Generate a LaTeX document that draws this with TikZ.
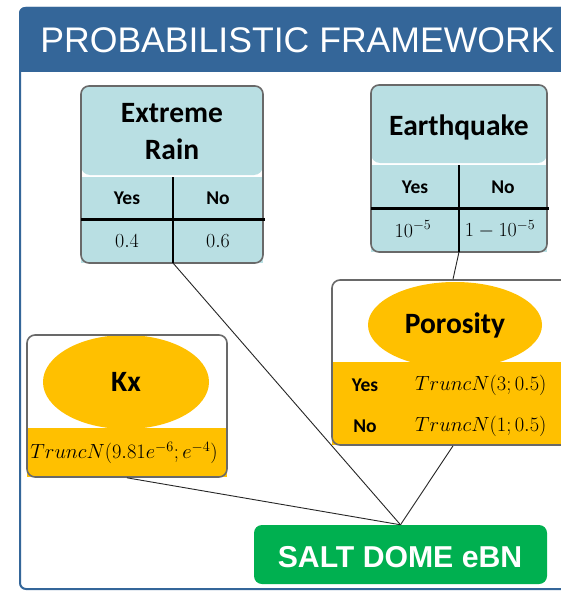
\RequirePackage{fix-cm}
\documentclass[tikz,border=0pt]{standalone}
\usepackage{fontspec}
\newfontfamily\calfont{Carlito}
\newfontfamily\arialfont{Liberation Sans}
\definecolor{hblue}{RGB}{52,102,153}
\definecolor{tblue}{RGB}{185,223,227}
\definecolor{nyellow}{RGB}{255,192,0}
\definecolor{ngreen}{RGB}{0,176,80}
\definecolor{bgray}{RGB}{105,105,105}
\begin{document}
\begin{tikzpicture}[x=1pt,y=-1pt,
  boxborder/.style={draw=bgray, line width=1.6, rounded corners=8, inner sep=0pt, fill=none},
  titletext/.style={font=\calfont\bfseries\fontsize{29.5}{37}\selectfont, align=center, inner sep=0pt},
  cellhead/.style={font=\calfont\bfseries\fontsize{19.5}{22}\selectfont, inner sep=0pt},
  cellval/.style={font=\fontsize{20}{22}\selectfont, inner sep=0pt},
  distr/.style={font=\fontsize{20.5}{23}\selectfont, inner sep=0pt},
  thickrule/.style={line width=2.5, black},
  divider/.style={line width=1.5, black},
  conn/.style={line width=0.9, black!85}]
\useasboundingbox (0,0) rectangle (561,591);
\clip (0,0) rectangle (561,591);

% outer frame
\fill[white] (0,0) rectangle (561,591);
\draw[hblue, line width=2, rounded corners=6] (20,8) rectangle (640,589);
\fill[hblue, rounded corners=6] (19,7) rectangle (640,72);
\fill[hblue] (19,40) rectangle (640,72);
\node[text=white, font=\arialfont\fontsize{35.6}{40}\selectfont, inner sep=0pt] (hdr) at (297.5,40.5) {PROBABILISTIC FRAMEWORK};

% Extreme Rain
\fill[white] (81,86) rectangle (263,263);
\fill[tblue, rounded corners=9] (81,86) rectangle (263,175);
\fill[tblue] (81,177) rectangle (263,263);
\node[boxborder, minimum width=182, minimum height=177] (er) at (172,174.5) {};
\draw[thickrule] (81,219.5) -- (265,219.5);
\coordinate (erdiv) at (173,263);
\draw[divider] (173,177) -- (erdiv);
\node[titletext] (ert) at (172,131.5) {Extreme\\Rain};
\node[cellhead] (eryes) at (127,198) {Yes};
\node[cellhead] (erno) at (218,198) {No};
\node[cellval] (eryv) at (127,241) {$0.4$};
\node[cellval] (ernv) at (218,241) {$0.6$};

% Earthquake
\fill[white] (371,85) rectangle (547,252);
\fill[tblue, rounded corners=9] (371,85) rectangle (547,163);
\fill[tblue] (371,165) rectangle (547,252);
\node[boxborder, minimum width=176, minimum height=167] (eq) at (459,168.5) {};
\draw[thickrule] (371,208.5) -- (549,208.5);
\coordinate (eqdiv) at (459,252);
\draw[divider] (459,165) -- (eqdiv);
\node[titletext] (eqt) at (459,127) {Earthquake};
\node[cellhead] (eqyes) at (415,187) {Yes};
\node[cellhead] (eqno) at (503,187) {No};
\node[cellval] (eqyv) at (413,229) {$10^{-5}$};
\node[cellval] (eqnv) at (500,229) {$1-10^{-5}$};

% Porosity
\fill[white] (332,280) rectangle (574,445);
\fill[nyellow] (455,325) ellipse [x radius=87, y radius=43];
\fill[nyellow] (332,362) rectangle (574,445);
\node[boxborder, minimum width=242, minimum height=165] (por) at (453,362.5) {};
\node[titletext] (port) at (455,325) {Porosity};
\node[cellhead] (poryes) at (365,385) {Yes};
\node[cellhead] (porno) at (365,426) {No};
\node[distr, anchor=west] (poryv) at (415,385) {$TruncN(3;0.5)$};
\node[distr, anchor=west] (pornv) at (415,426) {$TruncN(1;0.5)$};

% Kx
\fill[white] (27,335) rectangle (227,477);
\fill[nyellow] (126,382) ellipse [x radius=83, y radius=47];
\fill[nyellow] (27,428) rectangle (227,477);
\node[boxborder, minimum width=200, minimum height=142] (kx) at (127,406) {};
\node[titletext] (kxt) at (126,382) {Kx};
\node[distr] (kxv) at (124,453) {$TruncN(9.81e^{-6};e^{-4})$};

% Salt dome
\node[fill=ngreen, rounded corners=8, minimum width=293, minimum height=59, inner sep=0pt] (salt) at (400.5,554.5) {};
\node[text=white, font=\arialfont\bfseries\fontsize{30.2}{33}\selectfont, inner sep=0pt] (saltt) at (400,557.5) {SALT DOME eBN};

% connectors
\draw[conn] (erdiv) -- (salt.north);
\draw[conn] (eqdiv) -- (por.north);
\draw[conn] (por.south) -- (salt.north);
\draw[conn] (kx.south) -- (salt.north);
\end{tikzpicture}
\end{document}
